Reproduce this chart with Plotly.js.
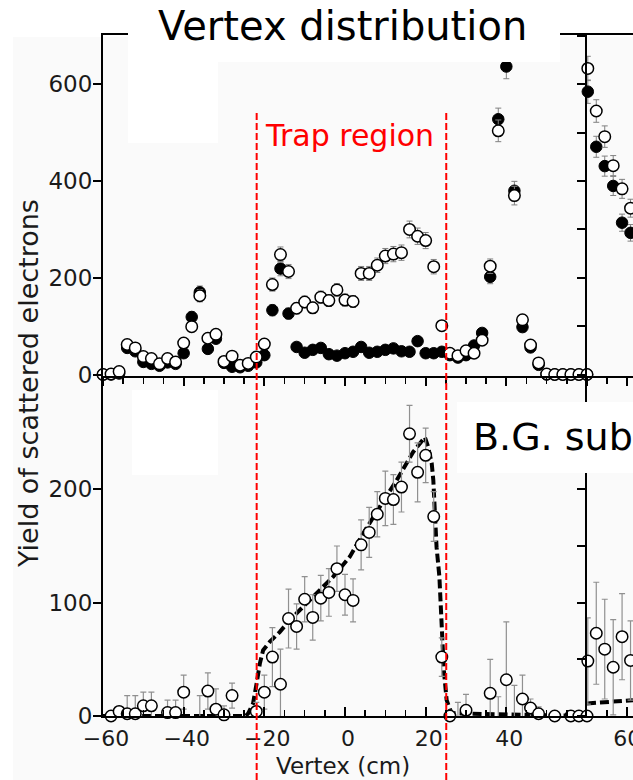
<!DOCTYPE html>
<html>
<head>
<meta charset="utf-8">
<script src="https://cdn.plot.ly/plotly-3.0.1.min.js"></script>
<style>
  html, body { margin: 0; padding: 0; background: #ffffff; }
  #chart { width: 633px; height: 780px; }
</style>
</head>
<body>
<div id="chart"></div>
<script>
// ---- Vertex bins of the main spectrometer panel (cm) ----
const vertexBins = [-60,-58,-56,-54,-52,-50,-48,-46,-44,-42,-40,-38,-36,-34,-32,-30,-28,-26,-24,-22,
                    -20,-18,-16,-14,-12,-10,-8,-6,-4,-2,0,2,4,6,8,10,12,14,16,18,
                    20,22,24,26,28,30,32,34,36,38,40,42,44,46,48,50,52,54,56,58,60];

// Raw yields, target gas in (open circles)
const yieldGasIn = [0,1,6,62,55,37,33,22,33,26,65,99,163,75,83,27,38,19,23,36,
                    63,186,248,213,137,150,138,160,153,175,154,151,209,209,226,245,249,252,300,286,
                    277,223,101,44,39,49,44,71,224,504,null,370,113,61,24,1,0,0,0,0,0];

// Raw yields, empty target (filled circles)
const yieldEmpty = [0,0,2,55,48,26,22,18,25,22,44,119,170,53,74,24,16,15,18,25,
                    40,133,219,126,57,45,51,55,42,39,44,47,57,45,47,51,54,48,47,69,
                    44,44,47,40,35,40,60,86,202,528,637,380,98,56,20,0,0,0,0,0,0];

// ---- Neighbouring panel (its own vertex axis) ----
const sideBins = [50.2, 52.3, 54.4, 56.5, 58.7, 60.8];
const sideGasIn = [633, 545, 492, 432, 384, 344];
const sideEmpty = [585, 471, 431, 390, 314, 293];
const sideSubtracted = [48.5, 73, 59, 43, 70, 49];
const sideSubtractedErr = [38, 45, 44, 42, 38, 35];
const sideModelX = [50, 53, 56, 61.4];
const sideModelY = [11, 12, 13, 14];

// ---- Background-subtracted yield ----
const subBins = [-58,-56,-54,-52,-50,-48,-44,-42,-40,-34,-32,-30,-28,-22,-20,-18,-16,-14,-12,-10,
                 -8,-6,-4,-2,0,2,4,6,8,10,12,14,16,18,20,22,24,26,30,36,
                 40,44,46,48,52,56,58,60];
const subYield = [0,4,2,2,9,9,3,3,21,22,6,1,18,4,21,52,28,86,79,103,
                  87,104,109,130,107,102,151,162,178,192,191,202,249,215,230,176,52,0,5,20,
                  32,15,7,2,0,0,0,0];
const subErr = [3,4,16,16,12,12,11,11,15,16,18,8,11,8,15,26,31,26,20,20,
                20,20,21,20,18,19,22,22,20,24,22,22,25,26,24,22,17,5,14,30,
                51,21,8,6,3,3,3,3];
// bins whose central value falls below zero (only the upper error bar shows)
const negBins = [-36, 28, 38, 42];
const negYield = [-4, -3, -5, -5];
const negErr = [22, 15, 22, 32];

// Simulated trap distribution (dashed curve)
const modelX = [-60,-24.6,-24,-22.8,-21.9,-21.1,-20.3,-18.6,-16.2,-13.7,-11.2,-7.5,-2.9,1.2,4.5,8.65,
                12.8,16.9,19.8,20.6,21.5,21.9,22.3,22.7,23.4,24,24.5,25.2,26.4,60];
const modelY = [0,0,2.4,11,29,46.5,58,65.6,74,84.7,93.5,106.8,123,140.6,161,184.7,
                208,233,246,237.6,223,208,179,149,123,84.7,40.6,14,2.4,0];

// Trap region boundaries (cm)
const trapEdges = [-21.9, 25.1];

// Tick labels
const topTicks = [0, 200, 400, 600];
const bottomTicks = [0, 100, 200];
const vertexTicks = [-60, -40, -20, 0, 20, 40];
const sideVertexTicks = [60];

// ---- styles ----
const TXT = '#1a1a1a';
const tickFont = {family: 'DejaVu Sans', size: 23, color: TXT};
const xTickFont = {family: 'DejaVu Sans', size: 22, color: TXT};
const openMarker = {symbol: 'circle', size: 11.5, color: '#ffffff', line: {color: '#000000', width: 1.5}};
const filledMarker = {symbol: 'circle', size: 11.5, color: '#000000', line: {color: '#000000', width: 1}};
const sqrtErr = {type: 'sqrt', visible: true, color: '#808080', thickness: 1, width: 3};
const subErrStyle = {visible: true, color: '#909090', thickness: 1.2, width: 3};

const traces = [
  // top: raw yields
  {x: vertexBins, y: yieldEmpty, xaxis: 'x', yaxis: 'y', type: 'scatter', mode: 'markers',
   marker: filledMarker, error_y: sqrtErr, cliponaxis: false},
  {x: vertexBins, y: yieldGasIn, xaxis: 'x', yaxis: 'y', type: 'scatter', mode: 'markers',
   marker: openMarker, error_y: sqrtErr, cliponaxis: false},
  {x: sideBins, y: sideEmpty, xaxis: 'x2', yaxis: 'y3', type: 'scatter', mode: 'markers',
   marker: filledMarker, error_y: sqrtErr, cliponaxis: false},
  {x: sideBins, y: sideGasIn, xaxis: 'x2', yaxis: 'y3', type: 'scatter', mode: 'markers',
   marker: openMarker, error_y: sqrtErr, cliponaxis: false},

  // bottom: simulation curve
  {x: modelX, y: modelY, xaxis: 'x3', yaxis: 'y2', type: 'scatter', mode: 'lines',
   line: {color: '#000000', width: 4, dash: '9px,4px'}, cliponaxis: false},
  {x: sideModelX, y: sideModelY, xaxis: 'x4', yaxis: 'y4', type: 'scatter', mode: 'lines',
   line: {color: '#000000', width: 4, dash: '9px,4px'}, cliponaxis: false},

  // bottom: background-subtracted yield
  {x: negBins, y: negYield, xaxis: 'x3', yaxis: 'y2', type: 'scatter', mode: 'markers',
   marker: openMarker, cliponaxis: true,
   error_y: Object.assign({type: 'data', array: negErr}, subErrStyle)},
  {x: subBins, y: subYield, xaxis: 'x3', yaxis: 'y2', type: 'scatter', mode: 'markers',
   marker: openMarker, cliponaxis: false,
   error_y: Object.assign({type: 'data', array: subErr}, subErrStyle)},
  {x: sideBins, y: sideSubtracted, xaxis: 'x4', yaxis: 'y4', type: 'scatter', mode: 'markers',
   marker: openMarker, cliponaxis: false,
   error_y: Object.assign({type: 'data', array: sideSubtractedErr}, subErrStyle)}
];

// ---- geometry (pixel layout of the frame) ----
const W = 633, H = 780, ML = 103, MR = 0, MT = 35, MB = 64;
const PW = W - ML - MR, PH = H - MT - MB;
const splitX = (587 - ML) / PW;      // boundary between main and neighbouring panel
const splitY = (H - MB - 376) / PH;  // boundary between upper and lower panel
const px = v => (v - ML) / PW;             // pixel x -> paper x
const py = v => (H - MB - v) / PH;         // pixel y -> paper y

const topRange = [-3.1, 702.2];
const botRange = [0, 300];
const mainRange = [-60, 60];
const sideRange = [50, 61.41];

function axis(extra) {
  return Object.assign({
    showline: true, linecolor: '#000000', linewidth: 2,
    showgrid: false, zeroline: false,
    tickcolor: '#000000', tickwidth: 2,
    tickfont: tickFont, fixedrange: true
  }, extra);
}
function overlayY(base, anchor, range, dtick) {
  return {overlaying: base, anchor: anchor, range: range, showline: false, showgrid: false,
          zeroline: false, showticklabels: false, ticks: 'inside', ticklen: 8, tickwidth: 2,
          tickcolor: '#000000', tickmode: 'linear', tick0: 0, dtick: dtick, fixedrange: true};
}
const minorOut = {ticks: 'outside', ticklen: 6, tickwidth: 1.5, tickcolor: '#000000', dtick: 5, tick0: 0};
const minorIn = {ticks: 'inside', ticklen: 6, tickwidth: 1.5, tickcolor: '#000000', dtick: 5, tick0: 0};

const layout = {
  width: W, height: H,
  margin: {l: ML, r: MR, t: MT, b: MB, pad: 0},
  paper_bgcolor: '#ffffff', plot_bgcolor: 'rgba(0,0,0,0)',
  showlegend: false,
  font: {family: 'DejaVu Sans', color: TXT},

  // upper panels
  xaxis: axis({domain: [0, splitX], anchor: 'y', range: mainRange, mirror: true,
               ticks: 'outside', ticklen: 8, tickmode: 'linear', tick0: 0, dtick: 20,
               showticklabels: false, minor: minorOut}),
  xaxis2: axis({domain: [splitX, 1], anchor: 'y3', range: sideRange, mirror: true,
                ticks: 'outside', ticklen: 8, tickmode: 'linear', tick0: 0, dtick: 20,
                showticklabels: false, minor: minorOut}),
  // lower panels
  xaxis3: axis({domain: [0, splitX], anchor: 'y2', range: mainRange,
                ticks: 'inside', ticklen: 9, tickmode: 'array', tickvals: vertexTicks,
                tickfont: xTickFont, ticklabelstandoff: 2, ticklabelshift: 3, minor: minorIn}),
  xaxis4: axis({domain: [splitX, 1], anchor: 'y4', range: sideRange,
                ticks: 'inside', ticklen: 9, tickmode: 'array', tickvals: sideVertexTicks,
                tickfont: xTickFont, ticklabelstandoff: 2, ticklabeloverflow: 'allow', minor: minorIn}),

  yaxis: axis({domain: [splitY, 1], anchor: 'x', range: topRange,
               ticks: 'outside', ticklen: 8, tickmode: 'array', tickvals: topTicks,
               ticklabelstandoff: -4}),
  yaxis2: axis({domain: [0, splitY], anchor: 'x3', range: botRange,
                ticks: 'outside', ticklen: 8, tickmode: 'array', tickvals: bottomTicks,
                ticklabelstandoff: -4}),
  yaxis3: axis({domain: [splitY, 1], anchor: 'x2', range: topRange,
                ticks: 'outside', ticklen: 8, tickmode: 'linear', tick0: 0, dtick: 100,
                showticklabels: false}),
  yaxis4: axis({domain: [0, splitY], anchor: 'x4', range: botRange,
                ticks: 'outside', ticklen: 8, tickmode: 'linear', tick0: 0, dtick: 50,
                showticklabels: false}),
  yaxis5: overlayY('y', 'x', topRange, 100),
  yaxis6: overlayY('y2', 'x3', botRange, 50),
  yaxis7: overlayY('y3', 'x2', topRange, 100),
  yaxis8: overlayY('y4', 'x4', botRange, 50),

  shapes: [
    // faint grey backing of the figure and the white label patches
    {type: 'rect', xref: 'paper', yref: 'paper', layer: 'below',
     x0: px(13), x1: 1, y0: py(780), y1: py(37), fillcolor: '#fafafa', line: {width: 0}},
    {type: 'rect', xref: 'paper', yref: 'paper', layer: 'below',
     x0: px(128), x1: px(218), y0: py(143), y1: py(37), fillcolor: '#ffffff', line: {width: 0}},
    {type: 'rect', xref: 'paper', yref: 'paper', layer: 'below',
     x0: px(132), x1: px(218), y0: py(475), y1: py(390), fillcolor: '#ffffff', line: {width: 0}},
    {type: 'rect', xref: 'paper', yref: 'paper', layer: 'above',
     x0: px(128), x1: px(560), y0: py(62), y1: py(0), fillcolor: '#ffffff', line: {width: 0}},
    {type: 'rect', xref: 'paper', yref: 'paper', layer: 'above',
     x0: px(457), x1: 1.01, y0: py(473), y1: py(402), fillcolor: '#ffffff', line: {width: 0}}
  ].concat(trapEdges.map(e => ({
    type: 'line', xref: 'x', yref: 'paper', layer: 'above',
    x0: e, x1: e, y0: py(780), y1: py(113),
    line: {color: '#ff0000', width: 2, dash: '7px,3px'}
  }))),

  annotations: [
    {text: 'Vertex distribution', xref: 'paper', yref: 'paper', x: px(342), y: py(26),
     xanchor: 'center', yanchor: 'middle', showarrow: false,
     font: {family: 'DejaVu Sans', size: 40, color: '#000000'}},
    {text: 'Trap region', xref: 'paper', yref: 'paper', x: px(263), y: py(135),
     xanchor: 'left', yanchor: 'middle', showarrow: false,
     font: {family: 'DejaVu Sans', size: 30, color: '#ff0000'}},
    {text: 'B.G. subtracted', xref: 'paper', yref: 'paper', x: px(471), y: py(437),
     xanchor: 'left', yanchor: 'middle', showarrow: false,
     font: {family: 'DejaVu Sans', size: 38, color: '#000000'}},
    {text: 'Yield of scattered electrons', xref: 'paper', yref: 'paper', x: px(28), y: py(384),
     xanchor: 'center', yanchor: 'middle', textangle: -90, showarrow: false,
     font: {family: 'DejaVu Sans', size: 27, color: TXT}},
    {text: 'Vertex (cm)', xref: 'paper', yref: 'paper', x: px(343), y: py(766),
     xanchor: 'center', yanchor: 'middle', showarrow: false,
     font: {family: 'DejaVu Sans', size: 23, color: TXT}}
  ]
};

Plotly.newPlot('chart', traces, layout, {staticPlot: true, displayModeBar: false});
</script>
</body>
</html>
